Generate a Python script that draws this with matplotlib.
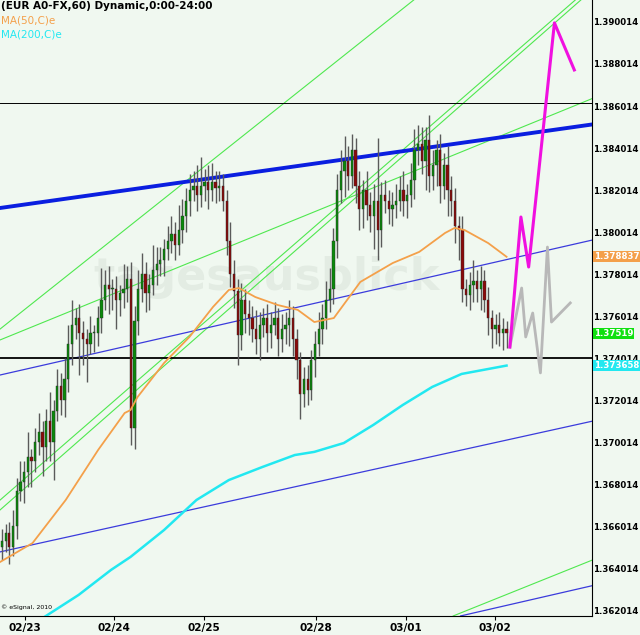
import matplotlib.pyplot as plt
import matplotlib.transforms as mtransforms

# hourly EUR/USD closes, 02/23 - 03/02 2010
closes = [
    1.3653, 1.3657, 1.3650, 1.3660, 1.3677, 1.3681,
    1.3686, 1.3693, 1.3691, 1.3700, 1.3705, 1.3698,
    1.3710, 1.3700, 1.3715, 1.3727, 1.3720, 1.3730,
    1.3747, 1.3756, 1.3759, 1.3752, 1.3749, 1.3747,
    1.3752, 1.3752, 1.3759, 1.3768, 1.3775, 1.3773,
    1.3773, 1.3768, 1.3771, 1.3773, 1.3778, 1.3707,
    1.3758, 1.3773, 1.3780, 1.3771, 1.3775, 1.3782,
    1.3785, 1.3787, 1.3792, 1.3796, 1.3799, 1.3794,
    1.3801, 1.3808, 1.3815, 1.3820, 1.3822, 1.3818,
    1.3822, 1.3824, 1.3820, 1.3824, 1.3821, 1.3822,
    1.3815, 1.3796, 1.3780, 1.3772, 1.3751, 1.3768,
    1.3761, 1.3759, 1.3754, 1.3749, 1.3756, 1.3759,
    1.3752, 1.3756, 1.3759, 1.3749, 1.3754, 1.3756,
    1.3759, 1.3749, 1.3739, 1.3723, 1.3730, 1.3725,
    1.3739, 1.3747, 1.3754, 1.3759, 1.3768, 1.3773,
    1.3796, 1.3820, 1.3829, 1.3834, 1.3827, 1.3839,
    1.3822, 1.3811, 1.3820, 1.3813, 1.3808, 1.3815,
    1.3801, 1.3818, 1.3815, 1.3811, 1.3813, 1.3815,
    1.3820, 1.3815, 1.3818, 1.3825, 1.3839, 1.3842,
    1.3834, 1.3844, 1.3827, 1.3832, 1.3839, 1.3822,
    1.3832, 1.3820, 1.3815, 1.3803, 1.3801, 1.3773,
    1.3770, 1.3775, 1.3777, 1.3773, 1.3777, 1.3768,
    1.3759, 1.3754, 1.3756, 1.3752, 1.3754, 1.37519,
]
first_open = 1.3650
# wick lengths in pips above / below the body
wick_up = [
    6, 4, 5, 8, 6, 10, 5, 12, 4, 7, 9, 5, 6, 14, 5, 8, 6, 10,
    9, 12, 5, 7, 6, 5, 8, 4, 6, 15, 7, 9, 5, 6, 4, 12, 6, 8,
    7, 9, 10, 6, 5, 12, 8, 6, 5, 7, 9, 6, 12, 8, 6, 8, 7, 10,
    14, 6, 8, 9, 5, 7, 6, 5, 9, 7, 6, 8, 5, 7, 6, 9, 6, 5,
    7, 6, 8, 5, 7, 6, 9, 6, 5, 4, 6, 7, 5, 6, 8, 7, 9, 10,
    6, 8, 10, 12, 7, 8, 6, 7, 5, 9, 6, 8, 30, 6, 7, 5, 6, 8,
    7, 9, 5, 8, 10, 9, 8, 6, 12, 7, 5, 8, 6, 9, 7, 6, 5, 7,
    5, 6, 10, 5, 7, 5, 6, 4, 5, 6, 5, 4,
]
wick_dn = [
    6, 5, 8, 4, 6, 5, 10, 7, 12, 5, 6, 14, 7, 9, 18, 5, 7, 8,
    6, 10, 7, 20, 12, 18, 5, 9, 6, 7, 5, 12, 10, 14, 8, 7, 6, 8,
    10, 7, 6, 9, 8, 5, 7, 6, 8, 5, 6, 7, 5, 6, 8, 7, 5, 8,
    6, 7, 9, 5, 7, 6, 5, 7, 6, 8, 14, 7, 9, 8, 6, 7, 10, 6,
    9, 7, 5, 8, 6, 7, 10, 8, 9, 12, 6, 7, 5, 8, 6, 7, 5, 6,
    7, 8, 6, 12, 7, 6, 8, 10, 9, 7, 8, 16, 14, 8, 6, 7, 8, 6,
    5, 7, 8, 6, 9, 7, 6, 14, 8, 7, 10, 8, 6, 12, 7, 8, 14, 6,
    5, 7, 8, 6, 10, 6, 8, 9, 7, 6, 8, 7,
]

# moving averages (bar index, price)
ma50_x = [-0.5, 8.3, 17.3, 26.1, 33.3, 34.9, 36.8, 44.0, 50.9, 57.3, 61.6, 64.3,
          68.8, 74.9, 80.3, 84.8, 90.1, 97.3, 106.1, 113.3, 120.3, 122.9, 125.6,
          132.0, 137.0]
ma50_y = [1.36431, 1.36521, 1.36726, 1.36964, 1.37140, 1.37154, 1.37216, 1.37378,
          1.37502, 1.37645, 1.37726, 1.37735, 1.37692, 1.37654, 1.37631, 1.37573,
          1.37592, 1.37764, 1.37854, 1.37907, 1.37997, 1.38021, 1.38011, 1.37949,
          1.378837]
ma200_x = [11.5, 20.8, 29.6, 34.9, 44.0, 52.8, 61.6, 70.7, 79.5, 84.8, 92.8,
           100.8, 108.8, 116.8, 124.8, 137.0]
ma200_y = [1.36169, 1.36274, 1.36393, 1.36455, 1.36583, 1.36726, 1.36821, 1.36883,
           1.36940, 1.36955, 1.36997, 1.37083, 1.37178, 1.37264, 1.37326, 1.373658]

# projected paths
proj_up_x = [137.9, 140.9, 143.0, 150.0, 155.4]
proj_up_y = [1.37454, 1.38073, 1.37835, 1.38997, 1.38773]
proj_alt_x = [137.9, 141.1, 142.2, 144.1, 146.2, 148.1, 149.2, 154.3]
proj_alt_y = [1.37454, 1.37735, 1.37502, 1.37616, 1.37331, 1.37930, 1.37573, 1.37664]

# trend lines: two points each
blue_thick = [(-0.5, 1.38116), (159.2, 1.38511)]
blue_thin = [
    [(-0.5, 1.37321), (159.2, 1.37959)],
    [(-0.5, 1.36479), (159.2, 1.37097)],
    [(128.0, 1.36188), (160.0, 1.36317)],
]
green_lines = [
    [(-0.5, 1.37540), (61.6, 1.38406)],
    [(-0.5, 1.37488), (160.0, 1.38635)],
    [(-0.5, 1.36726), (84.8, 1.38026)],
    [(-0.5, 1.36679), (84.8, 1.37992)],
    [(124.5, 1.36188), (159.0, 1.36431)],
]
h_levels = [1.37401, 1.38616]

date_pos = [6.2, 30.5, 54.8, 85.2, 109.7, 133.9]
date_labels = ['02/23', '02/24', '02/25', '02/28', '03/01', '03/02']
price_ticks = [1.362014 + 0.002 * k for k in range(15)]

bg = '#f0f8f0'
fig = plt.figure(figsize=(6.4, 6.35), dpi=100, facecolor=bg)
ax = fig.add_axes([0, 0.03, 0.925, 0.97], facecolor=bg)

# watermark
ax.text(0.45, 0.55, 'tagesausblick', transform=ax.transAxes, fontsize=32,
        fontweight='bold', color='#e3ece3', ha='center', va='center', zorder=0)

for (p1, p2) in green_lines:
    ax.axline(p1, p2, color='#4fe84f', lw=0.8, zorder=1)
for (p1, p2) in blue_thin:
    ax.axline(p1, p2, color='#3b3bdc', lw=0.9, zorder=1)
ax.axline(blue_thick[0], blue_thick[1], color='#0a1ee0', lw=2.8, zorder=2)
ax.axhline(h_levels[0], color='black', lw=1.3, zorder=2)
ax.axhline(h_levels[1], color='black', lw=0.7, zorder=2)

opens = [first_open] + closes[:-1]
for i, (o, c) in enumerate(zip(opens, closes)):
    hi = max(o, c) + wick_up[i] * 0.0001
    lo = min(o, c) - wick_dn[i] * 0.0001
    ax.vlines(i, lo, hi, color='#5a5a5a', lw=1.0, zorder=3)
    col = '#0a8a0a' if c >= o else '#8b0a0a'
    body = max(abs(c - o), 0.00004)
    ax.bar(i, body, bottom=min(o, c), width=0.62, color=col,
           edgecolor='#2a2a2a', linewidth=0.3, zorder=4)

ax.plot(ma50_x, ma50_y, color='#f4a04a', lw=1.3, zorder=5)
ax.plot(ma200_x, ma200_y, color='#22e8f0', lw=1.8, zorder=5)
ax.plot(proj_alt_x, proj_alt_y, color='#b8b8b8', lw=2.0, zorder=6)
ax.plot(proj_up_x, proj_up_y, color='#f010e0', lw=2.2, zorder=7)

ax.set_xlim(-0.54, 160.2)
ax.set_ylim(1.36174, 1.39106)
ax.yaxis.tick_right()
ax.set_yticks(price_ticks)
ax.set_yticklabels([f'{v:.6f}' for v in price_ticks], fontsize=6.2, fontweight='bold')
ax.set_xticks(date_pos)
ax.set_xticklabels(date_labels, fontsize=7.5, fontweight='bold')
ax.tick_params(axis='y', length=0, pad=1)
ax.tick_params(axis='x', length=3, pad=2)
for side in ['top', 'left']:
    ax.spines[side].set_visible(False)

# last value boxes on the price axis
trans = mtransforms.blended_transform_factory(ax.transAxes, ax.transData)
for val, txt, fc in [(1.378837, '1.378837', '#f4a04a'), (1.37519, '1.37519', '#10e010'),
                     (1.373658, '1.373658', '#22e8f0')]:
    ax.text(1.003, val, txt, transform=trans, fontsize=6.2, fontweight='bold',
            color='white', va='center', ha='left',
            zorder=10, bbox=dict(boxstyle='square,pad=0.12', fc=fc, ec='none'))

ax.text(0.002, 0.998, '(EUR A0-FX,60) Dynamic,0:00-24:00', transform=ax.transAxes,
        fontsize=7.5, fontweight='bold', va='top', ha='left')
ax.text(0.002, 0.975, 'MA(50,C)e', transform=ax.transAxes, fontsize=7.5,
        color='#f4a04a', va='top', ha='left')
ax.text(0.002, 0.952, 'MA(200,C)e', transform=ax.transAxes, fontsize=7.5,
        color='#22e8f0', va='top', ha='left')
ax.text(0.002, 0.01, '© eSignal, 2010', transform=ax.transAxes, fontsize=4.5,
        va='bottom', ha='left')

fig.savefig('out.png', dpi=100, facecolor=bg)
